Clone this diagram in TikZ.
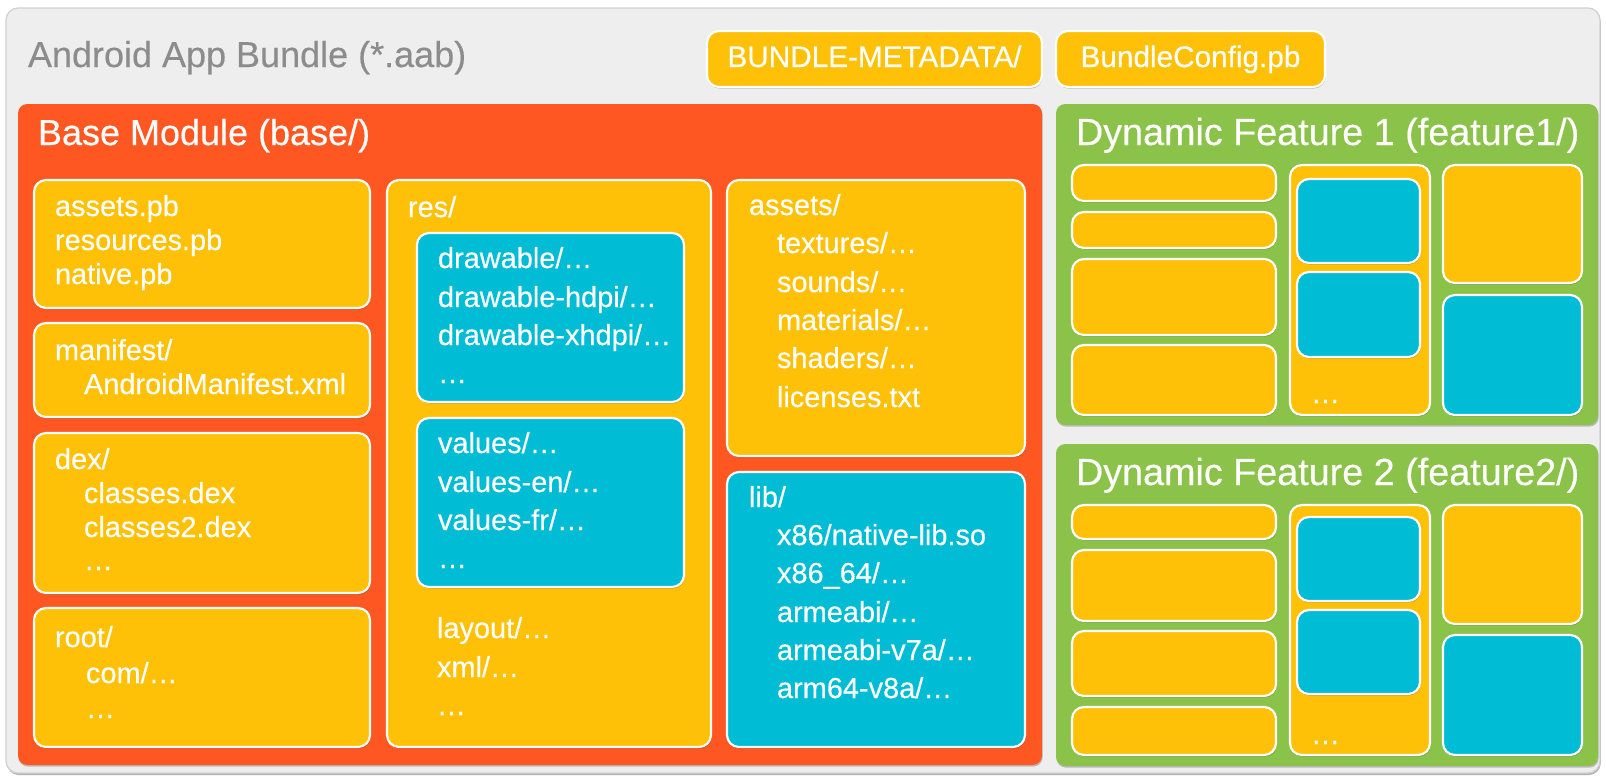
\documentclass[tikz,border=0pt]{standalone}
\usepackage{fontspec}
\setmainfont{Liberation Sans}[BoldFont=Liberation Sans, BoldFeatures={FakeBold=0.35}]
\usetikzlibrary{shadows}
\definecolor{bgray}{HTML}{EEEEEE}
\definecolor{bborder}{HTML}{D2D2D2}
\definecolor{tgray}{HTML}{8C8C8C}
\definecolor{dorange}{HTML}{FF5722}
\definecolor{amber}{HTML}{FFC107}
\definecolor{cyanb}{HTML}{00BCD4}
\definecolor{lgreen}{HTML}{8BC34A}
\tikzset{
  box/.style={anchor=north west, inner sep=0pt, outer sep=0pt, rectangle, rounded corners=9pt},
  shad/.style={drop shadow={shadow xshift=0.5pt, shadow yshift=-1.2pt, opacity=0.22, fill=black}},
  ybox/.style={box, shad, fill=amber, draw=white, line width=1.6pt},
  bbox/.style={box, shad, fill=cyanb, draw=white, line width=1.6pt},
  obox/.style={box, shad, fill=dorange, rounded corners=7pt},
  gbox/.style={box, shad, fill=lgreen, rounded corners=7pt},
  outer/.style={box, fill=bgray, draw=bborder, line width=1pt, rounded corners=9pt, drop shadow={shadow xshift=0.6pt, shadow yshift=-1.5pt, opacity=0.3, fill=black}},
  txt/.style={anchor=base west, inner sep=0pt, outer sep=0pt, text=white, font=\fontsize{21.7}{25}\selectfont\bfseries},
  ttl/.style={anchor=base west, inner sep=0pt, outer sep=0pt, text=white, font=\fontsize{27}{30}\selectfont\bfseries},
  fttl/.style={ttl, font=\fontsize{28.3}{30}\selectfont\bfseries},
  lbl/.style={anchor=base, inner sep=0pt, outer sep=0pt, text=white, font=\fontsize{22.3}{26}\selectfont\bfseries},
}
\newcommand\bx[6]{\node[#2, minimum width={(#5-#3)*0.75pt}, minimum height={(#6-#4)*0.75pt}] (#1) at (#3,#4) {};}
\newcommand\tl[4]{\node[txt] (#1) at (#2,#3) {#4};}
\begin{document}
\begin{tikzpicture}[x=0.75pt,y=-0.75pt]
\useasboundingbox (0,0) rectangle (1606,776);
% outer bundle
\bx{bundle}{outer}{6}{8}{1600}{773}
\node[ttl, text=tgray] (bundletitle) at (28,67) {Android App Bundle (*.aab)};
\bx{meta}{ybox}{707}{31}{1042}{87}
\node[lbl] (metat) at (874.5,67) {BUNDLE-METADATA/};
\bx{conf}{ybox}{1056}{31}{1325}{87}
\node[lbl] (conft) at (1190.5,67) {BundleConfig.pb};
% base module
\bx{base}{obox}{18}{104}{1042}{765}
\node[ttl] (baset) at (38,145) {Base Module (base/)};
% column 1
\bx{pb}{ybox}{34}{180}{370}{308}
\tl{pb1}{55}{216}{assets.pb}
\tl{pb2}{55}{250}{resources.pb}
\tl{pb3}{55}{284}{native.pb}
\bx{man}{ybox}{34}{323}{370}{417}
\tl{man1}{55}{360}{manifest/}
\tl{man2}{84}{394}{AndroidManifest.xml}
\bx{dex}{ybox}{34}{433}{370}{593}
\tl{dex1}{55}{469}{dex/}
\tl{dex2}{84}{503}{classes.dex}
\tl{dex3}{84}{537}{classes2.dex}
\tl{dex4}{84}{570}{…}
\bx{root}{ybox}{34}{608}{370}{747}
\tl{root1}{55}{647}{root/}
\tl{root2}{86}{683}{com/…}
\tl{root3}{86}{718}{…}
% column 2
\bx{res}{ybox}{387}{180}{711}{747}
\tl{res1}{408}{217}{res/}
\bx{draw}{bbox}{417}{233}{684}{402}
\tl{dr1}{438}{268}{drawable/…}
\tl{dr2}{438}{307}{drawable-hdpi/…}
\tl{dr3}{438}{345}{drawable-xhdpi/…}
\tl{dr4}{438}{383}{…}
\bx{vals}{bbox}{417}{418}{684}{587}
\tl{va1}{438}{453}{values/…}
\tl{va2}{438}{492}{values-en/…}
\tl{va3}{438}{530}{values-fr/…}
\tl{va4}{438}{568}{…}
\tl{la1}{437}{638}{layout/…}
\tl{la2}{437}{677}{xml/…}
\tl{la3}{437}{715}{…}
% column 3
\bx{ast}{ybox}{727}{180}{1025}{456}
\tl{as1}{749}{215}{assets/}
\tl{as2}{777}{253}{textures/…}
\tl{as3}{777}{292}{sounds/…}
\tl{as4}{777}{330}{materials/…}
\tl{as5}{777}{368}{shaders/…}
\tl{as6}{777}{407}{licenses.txt}
\bx{lib}{bbox}{727}{472}{1025}{747}
\tl{li1}{749}{507}{lib/}
\tl{li2}{777}{545}{x86/native-lib.so}
\tl{li3}{777}{583}{x86\_64/…}
\tl{li4}{777}{622}{armeabi/…}
\tl{li5}{777}{660}{armeabi-v7a/…}
\tl{li6}{777}{698}{arm64-v8a/…}
% feature 1
\bx{fa}{gbox}{1056}{104}{1598}{425}
\node[fttl] (fat) at (1076,145) {Dynamic Feature 1 (feature1/)};
\bx{fa11}{ybox}{1072}{165}{1276}{201}
\bx{fa12}{ybox}{1072}{212}{1276}{248}
\bx{fa13}{ybox}{1072}{259}{1276}{335}
\bx{fa14}{ybox}{1072}{345}{1276}{415}
\bx{fa2}{ybox}{1290}{165}{1430}{415}
\bx{fa21}{bbox}{1297}{179}{1420}{263}
\bx{fa22}{bbox}{1297}{272}{1420}{357}
\tl{fadots}{1311}{403}{…}
\bx{fa31}{ybox}{1443}{165}{1582}{283}
\bx{fa32}{bbox}{1443}{295}{1582}{415}
% feature 2
\bx{fb}{gbox}{1056}{444}{1598}{766}
\node[fttl] (fbt) at (1076,485) {Dynamic Feature 2 (feature2/)};
\bx{fb11}{ybox}{1072}{505}{1276}{539}
\bx{fb12}{ybox}{1072}{550}{1276}{621}
\bx{fb13}{ybox}{1072}{631}{1276}{696}
\bx{fb14}{ybox}{1072}{707}{1276}{755}
\bx{fb2}{ybox}{1290}{505}{1430}{755}
\bx{fb21}{bbox}{1297}{517}{1420}{601}
\bx{fb22}{bbox}{1297}{610}{1420}{694}
\tl{fbdots}{1311}{744}{…}
\bx{fb31}{ybox}{1443}{505}{1582}{624}
\bx{fb32}{bbox}{1443}{635}{1582}{755}
\end{tikzpicture}
\end{document}
